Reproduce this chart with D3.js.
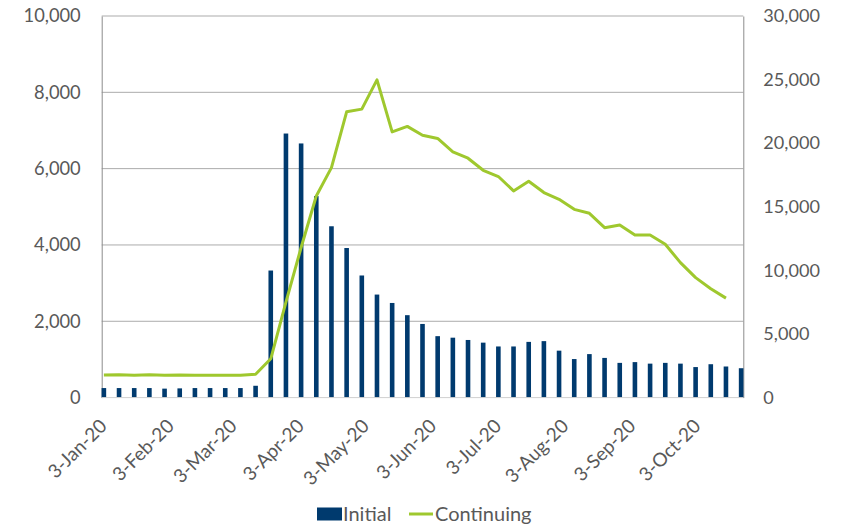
<!DOCTYPE html>
<html>
<head>
<meta charset="utf-8">
<script src="https://cdnjs.cloudflare.com/ajax/libs/d3/7.8.5/d3.min.js"></script>
<style>
  body { margin: 0; background: #fff; }
  svg text { font-family: Lato, "Open Sans", sans-serif; fill: #595959; }
</style>
</head>
<body>
<svg id="chart" width="842" height="527"></svg>
<script>
// weekly claims, week ending dates
const weeks = [
    "2020-01-04", "2020-01-11", "2020-01-18", "2020-01-25",
    "2020-02-01", "2020-02-08", "2020-02-15", "2020-02-22", "2020-02-29",
    "2020-03-07", "2020-03-14", "2020-03-21", "2020-03-28",
    "2020-04-04", "2020-04-11", "2020-04-18", "2020-04-25",
    "2020-05-02", "2020-05-09", "2020-05-16", "2020-05-23", "2020-05-30",
    "2020-06-06", "2020-06-13", "2020-06-20", "2020-06-27",
    "2020-07-04", "2020-07-11", "2020-07-18", "2020-07-25",
    "2020-08-01", "2020-08-08", "2020-08-15", "2020-08-22", "2020-08-29",
    "2020-09-05", "2020-09-12", "2020-09-19", "2020-09-26",
    "2020-10-03", "2020-10-10", "2020-10-17", "2020-10-24"
];

const initial = [
    250, 250, 250, 250, 235, 242, 250, 250, 250, 250, 310, 3330, 6920,
    6660, 5280, 4490, 3920, 3200, 2700, 2480, 2160, 1930, 1610, 1570,
    1510, 1440, 1340, 1340, 1460, 1480, 1230, 1010, 1140, 1040, 910,
    930, 890, 910, 890, 800, 875, 815, 770
];

// one week shorter than initial
const continuing = [
    1780, 1790, 1760, 1790, 1760, 1780, 1760, 1750, 1750, 1750, 1840,
    3050, 7500, 11800, 15850, 18080, 22470, 22680, 24980, 20890, 21320,
    20630, 20370, 19320, 18820, 17870, 17380, 16250, 17010, 16120, 15590,
    14800, 14490, 13360, 13570, 12780, 12780, 12050, 10610, 9430, 8560, 7820
];

const dateDomain = ["2020-01-03", "2020-10-25"];
const monthTicks = [
    "2020-01-03", "2020-02-03", "2020-03-03", "2020-04-03", "2020-05-03",
    "2020-06-03", "2020-07-03", "2020-08-03", "2020-09-03", "2020-10-03"
];
const leftTicks = [0, 2000, 4000, 6000, 8000, 10000];
const rightTicks = [0, 5000, 10000, 15000, 20000, 25000, 30000];

const parse = d3.utcParse("%Y-%m-%d");
const plotL = 101.7, plotR = 743.3, plotT = 16, plotB = 397.6;

const svg = d3.select("#chart");

const x = d3.scaleUtc()
    .domain(dateDomain.map(parse))
    .range([plotL, plotR]);
const yL = d3.scaleLinear().domain([0, 10000]).range([plotB, plotT]);
const yR = d3.scaleLinear().domain([0, 30000]).range([plotB, plotT]);

const fmt = d3.format(",");

// gridlines
svg.append("g")
    .selectAll("line")
    .data(leftTicks.slice(1))
    .join("line")
    .attr("x1", plotL).attr("x2", plotR)
    .attr("y1", d => yL(d)).attr("y2", d => yL(d))
    .attr("stroke", "#ababab")
    .attr("stroke-width", 1);

// left axis
const axL = svg.append("g")
    .attr("transform", `translate(${plotL},0)`)
    .call(d3.axisLeft(yL).tickValues(leftTicks).tickFormat(fmt).tickSize(0).tickPadding(21));
axL.select(".domain").attr("stroke", "#8c8c8c");
axL.selectAll("text").attr("font-size", 18.3).attr("fill", "#595959").attr("font-family", null);

// right axis
const axR = svg.append("g")
    .attr("transform", `translate(${plotR},0)`)
    .call(d3.axisRight(yR).tickValues(rightTicks).tickFormat(fmt).tickSize(0).tickPadding(20));
axR.select(".domain").attr("stroke", "#8c8c8c");
axR.selectAll("text").attr("font-size", 18.1).attr("fill", "#595959").attr("font-family", null);

// bars
const barW = 4.6;
svg.append("g")
    .selectAll("rect")
    .data(initial)
    .join("rect")
    .attr("x", (d, i) => x(parse(weeks[i])) - barW / 2)
    .attr("y", d => yL(d))
    .attr("width", barW)
    .attr("height", d => plotB - yL(d))
    .attr("fill", "#003a6e");

// bottom axis line
svg.append("line")
    .attr("x1", plotL).attr("x2", plotR)
    .attr("y1", plotB).attr("y2", plotB)
    .attr("stroke", "#d0d0d0");

// continuing line
const line = d3.line()
    .x((d, i) => x(parse(weeks[i])))
    .y(d => yR(d));
svg.append("path")
    .datum(continuing)
    .attr("d", line)
    .attr("fill", "none")
    .attr("stroke", "#9fc82e")
    .attr("stroke-width", 3)
    .attr("stroke-linejoin", "round");

// x labels, rotated like excel
const tf = d3.utcFormat("%-d-%b-%y");
svg.append("g")
    .selectAll("text")
    .data(monthTicks)
    .join("text")
    .attr("transform", d => `translate(${x(parse(d)) + 1.6},${plotB + 25}) rotate(-45)`)
    .attr("text-anchor", "end")
    .attr("dy", "0.35em")
    .attr("font-size", 19)
    .text(d => tf(parse(d)));

// legend
const lg = svg.append("g");
lg.append("rect")
    .attr("x", 317).attr("y", 507.5).attr("width", 25).attr("height", 13)
    .attr("fill", "#003a6e");
lg.append("text")
    .attr("x", 343).attr("y", 514).attr("dy", "0.35em")
    .attr("font-size", 20).text("Initial");
lg.append("line")
    .attr("x1", 409).attr("x2", 433).attr("y1", 514).attr("y2", 514)
    .attr("stroke", "#9fc82e").attr("stroke-width", 3);
lg.append("text")
    .attr("x", 435).attr("y", 514).attr("dy", "0.35em")
    .attr("font-size", 20).text("Continuing");
</script>
</body>
</html>
